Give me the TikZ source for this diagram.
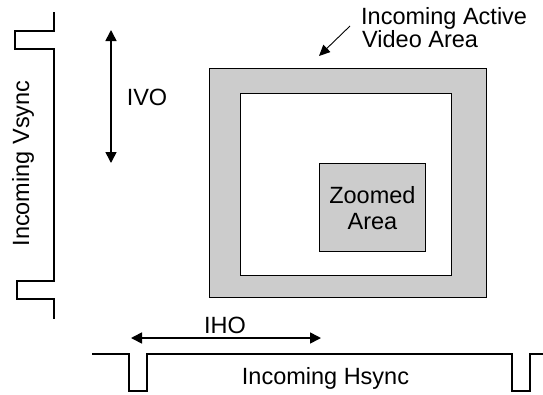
\documentclass[tikz,border=0pt]{standalone}
\usepackage{fontspec}
\setmainfont{Liberation Sans}
\usetikzlibrary{arrows.meta}
\begin{document}
\begin{tikzpicture}[x=1pt,y=-1pt,
  lbl/.style={font=\fontsize{23.5}{26}\selectfont, inner sep=0pt, align=center},
  wave/.style={line width=1.6pt, line join=miter},
  dim/.style={line width=1.6pt, {Triangle[length=11pt,width=11pt]}-{Triangle[length=11pt,width=11pt]}},
  ptr/.style={line width=0.9pt, -{Triangle[length=11pt,width=10pt]}},
  area/.style={draw=black, line width=0.8pt, fill=black!20}]
\useasboundingbox (0,0) rectangle (543,394);
% boxes
\node[area, minimum width=277pt, minimum height=229pt, anchor=north west, inner sep=0pt] (outer) at (209,68) {};
\node[draw=black, line width=0.8pt, fill=white, minimum width=211pt, minimum height=182pt, anchor=north west, inner sep=0pt] (inner) at (240,93) {};
\node[area, minimum width=106pt, minimum height=88pt, anchor=north west, inner sep=0pt] (zoom) at (319,163) {};
\node[lbl, yshift=-1pt] (zoomlbl) at (zoom.center) {Zoomed\\Area};
% active label
\node[lbl, anchor=base west] (active1) at (361,24) {Incoming Active};
\node[lbl, anchor=base west] (active2) at (362,47) {Video Area};
\coordinate (ptrstart) at (350,26);
\coordinate (ptrend) at (319,56);
\draw[ptr] (ptrstart) -- (ptrend);
% vsync
\draw[wave] (54,12) -- (54,31) -- (15,31) -- (15,49) -- (54,49) -- (54,281) -- (17,281) -- (17,299) -- (54,299) -- (54,319);
\node[lbl, rotate=90] (vsync) at (23,163.5) {Incoming Vsync};
% IVO
\coordinate (ivotop) at (111,30);
\coordinate (ivobot) at (111,163);
\draw[dim] (ivotop) -- (ivobot);
\node[lbl] (ivo) at (147,97) {IVO};
% hsync
\draw[wave] (92,354) -- (129,354) -- (129,391) -- (147,391) -- (147,354) -- (512,354) -- (512,391) -- (530,391) -- (530,354) -- (543,354);
\node[lbl] (hsync) at (325.5,378) {Incoming Hsync};
% IHO
\coordinate (ihol) at (131,338);
\coordinate (ihor) at (321,338);
\draw[dim] (ihol) -- (ihor);
\node[lbl] (iho) at (225,325) {IHO};
\end{tikzpicture}
\end{document}
